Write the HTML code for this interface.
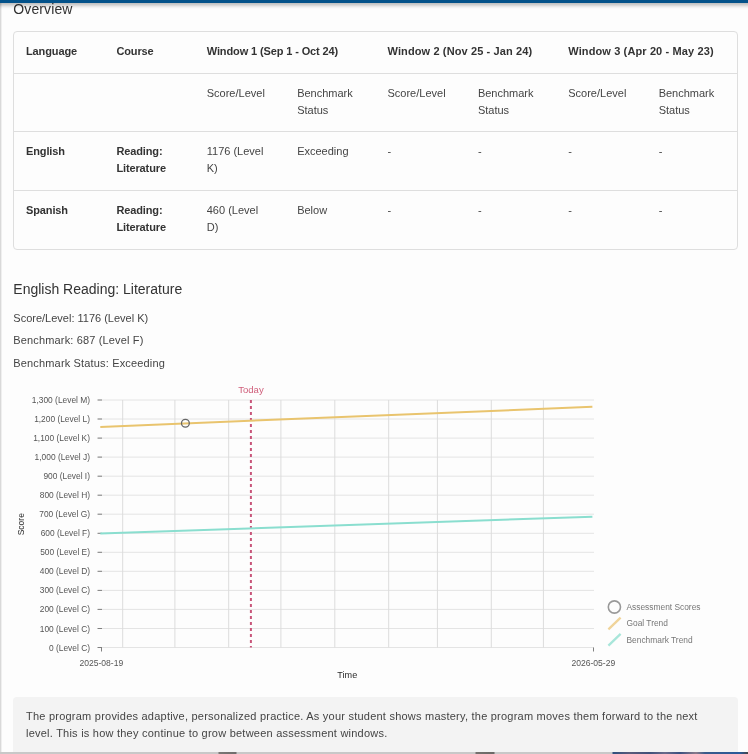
<!DOCTYPE html>
<html>
<head>
<meta charset="utf-8">
<style>
*{box-sizing:border-box;margin:0;padding:0}
html,body{width:748px;height:754px;overflow:hidden;background:#fdfdfd}
body{position:relative;will-change:transform;font-family:"Liberation Sans",Arial,sans-serif;color:#333}
.abs{position:absolute}
.lb0{left:0;top:0;width:1px;height:754px;background:#d9d9d9}
.lb1{left:1px;top:0;width:1px;height:754px;background:#efefef}
.topbar{left:-10px;top:0;width:770px;height:3px;background:#03528a;box-shadow:0 1px 5px rgba(0,0,0,.55);z-index:5}
h2.ov{left:13.3px;letter-spacing:0.12px;top:-1px;font-size:14px;font-weight:normal;line-height:20px;color:#333}
.card{left:13px;top:31px;width:725px;height:219px;border:1px solid #dedede;border-radius:4px;background:#fdfdfd}
table{border-collapse:collapse;table-layout:fixed;width:723px;font-size:11px;line-height:17px}
td,th{padding:0 8px 0 12px;vertical-align:top;text-align:left}
th{font-weight:bold;color:#333;letter-spacing:-0.12px}
td{color:#444}
th.w{letter-spacing:0.12px}
td.b{font-weight:bold;color:#333;letter-spacing:-0.12px}
tr.r1{height:41px}
tr.r1 th{padding-top:11px;border-bottom:1px solid #dedede}
tr.r2 td{padding-top:11px;height:58px;border-bottom:1px solid #dedede}
tr.r3 td{padding-top:11px;height:59px;border-bottom:1px solid #dedede}
tr.r4 td{padding-top:11px;height:59px}
h3.sec{left:13.3px;top:279px;font-size:14px;font-weight:normal;line-height:20px;color:#333}
.info{left:13.3px;font-size:11px;line-height:16px;color:#444}
.note{left:13px;top:697px;width:725px;height:70px;background:#f3f3f3;border-radius:4px;padding:11px 13px;font-size:11px;line-height:16.8px;color:#444;letter-spacing:0.23px}
.strip{left:0;top:752px;width:748px;height:2px;background:linear-gradient(90deg,#c8c8c8 0,#c8c8c8 218px,#7a7775 219px,#6f6d6c 236px,#c8c8c8 237px,#c8c8c8 475px,#75716e 476px,#6a6866 494px,#c8c8c8 495px,#c8c8c8 612px,#2f4f7e 613px,#5a5a7a 630px,#40507a 650px,#6a6a8a 665px,#3a4f7f 680px,#8a7a8a 696px,#3a5a8a 705px,#2a5a9a 740px,#444 748px)}
svg text{font-family:"Liberation Sans",Arial,sans-serif}
</style>
</head>
<body>
<div class="abs lb0"></div>
<div class="abs lb1"></div>
<div class="abs topbar"></div>
<h2 class="abs ov">Overview</h2>

<div class="abs card">
<table>
<colgroup><col><col><col><col><col><col><col><col></colgroup>
<tr class="r1"><th>Language</th><th>Course</th><th colspan="2">Window 1 (Sep 1 - Oct 24)</th><th colspan="2" class="w">Window 2 (Nov 25 - Jan 24)</th><th colspan="2" class="w">Window 3 (Apr 20 - May 23)</th></tr>
<tr class="r2"><td></td><td></td><td>Score/Level</td><td>Benchmark Status</td><td>Score/Level</td><td>Benchmark Status</td><td>Score/Level</td><td>Benchmark Status</td></tr>
<tr class="r3"><td class="b">English</td><td class="b">Reading: Literature</td><td>1176 (Level<br>K)</td><td>Exceeding</td><td>-</td><td>-</td><td>-</td><td>-</td></tr>
<tr class="r4"><td class="b">Spanish</td><td class="b">Reading: Literature</td><td>460 (Level<br>D)</td><td>Below</td><td>-</td><td>-</td><td>-</td><td>-</td></tr>
</table>
</div>

<h3 class="abs sec">English Reading: Literature</h3>
<div class="abs info" style="top:310px">Score/Level: 1176 (Level K)</div>
<div class="abs info" style="top:332px;letter-spacing:0.15px">Benchmark: 687 (Level F)</div>
<div class="abs info" style="top:355px;letter-spacing:0.16px">Benchmark Status: Exceeding</div>

<svg class="abs" style="left:0;top:380px" width="748" height="310" viewBox="0 380 748 310">
<line x1="98" y1="647.5" x2="594" y2="647.5" stroke="#e4e4e4" stroke-width="1"/>
<line x1="98" y1="628.5" x2="594" y2="628.5" stroke="#e4e4e4" stroke-width="1"/>
<line x1="98" y1="609.4" x2="594" y2="609.4" stroke="#e4e4e4" stroke-width="1"/>
<line x1="98" y1="590.4" x2="594" y2="590.4" stroke="#e4e4e4" stroke-width="1"/>
<line x1="98" y1="571.3" x2="594" y2="571.3" stroke="#e4e4e4" stroke-width="1"/>
<line x1="98" y1="552.3" x2="594" y2="552.3" stroke="#e4e4e4" stroke-width="1"/>
<line x1="98" y1="533.3" x2="594" y2="533.3" stroke="#e4e4e4" stroke-width="1"/>
<line x1="98" y1="514.2" x2="594" y2="514.2" stroke="#e4e4e4" stroke-width="1"/>
<line x1="98" y1="495.2" x2="594" y2="495.2" stroke="#e4e4e4" stroke-width="1"/>
<line x1="98" y1="476.2" x2="594" y2="476.2" stroke="#e4e4e4" stroke-width="1"/>
<line x1="98" y1="457.1" x2="594" y2="457.1" stroke="#e4e4e4" stroke-width="1"/>
<line x1="98" y1="438.1" x2="594" y2="438.1" stroke="#e4e4e4" stroke-width="1"/>
<line x1="98" y1="419.0" x2="594" y2="419.0" stroke="#e4e4e4" stroke-width="1"/>
<line x1="98" y1="400.0" x2="594" y2="400.0" stroke="#e4e4e4" stroke-width="1"/>
<line x1="122.7" y1="400.0" x2="122.7" y2="647.5" stroke="#dcdcdc" stroke-width="1"/>
<line x1="174.9" y1="400.0" x2="174.9" y2="647.5" stroke="#dcdcdc" stroke-width="1"/>
<line x1="228.7" y1="400.0" x2="228.7" y2="647.5" stroke="#dcdcdc" stroke-width="1"/>
<line x1="280.9" y1="400.0" x2="280.9" y2="647.5" stroke="#dcdcdc" stroke-width="1"/>
<line x1="334.8" y1="400.0" x2="334.8" y2="647.5" stroke="#dcdcdc" stroke-width="1"/>
<line x1="388.7" y1="400.0" x2="388.7" y2="647.5" stroke="#dcdcdc" stroke-width="1"/>
<line x1="437.4" y1="400.0" x2="437.4" y2="647.5" stroke="#dcdcdc" stroke-width="1"/>
<line x1="491.3" y1="400.0" x2="491.3" y2="647.5" stroke="#dcdcdc" stroke-width="1"/>
<line x1="543.4" y1="400.0" x2="543.4" y2="647.5" stroke="#dcdcdc" stroke-width="1"/>
<line x1="97.5" y1="647.5" x2="102" y2="647.5" stroke="#808080" stroke-width="1"/>
<line x1="97.5" y1="628.5" x2="102" y2="628.5" stroke="#808080" stroke-width="1"/>
<line x1="97.5" y1="609.4" x2="102" y2="609.4" stroke="#808080" stroke-width="1"/>
<line x1="97.5" y1="590.4" x2="102" y2="590.4" stroke="#808080" stroke-width="1"/>
<line x1="97.5" y1="571.3" x2="102" y2="571.3" stroke="#808080" stroke-width="1"/>
<line x1="97.5" y1="552.3" x2="102" y2="552.3" stroke="#808080" stroke-width="1"/>
<line x1="97.5" y1="533.3" x2="102" y2="533.3" stroke="#808080" stroke-width="1"/>
<line x1="97.5" y1="514.2" x2="102" y2="514.2" stroke="#808080" stroke-width="1"/>
<line x1="97.5" y1="495.2" x2="102" y2="495.2" stroke="#808080" stroke-width="1"/>
<line x1="97.5" y1="476.2" x2="102" y2="476.2" stroke="#808080" stroke-width="1"/>
<line x1="97.5" y1="457.1" x2="102" y2="457.1" stroke="#808080" stroke-width="1"/>
<line x1="97.5" y1="438.1" x2="102" y2="438.1" stroke="#808080" stroke-width="1"/>
<line x1="97.5" y1="419.0" x2="102" y2="419.0" stroke="#808080" stroke-width="1"/>
<line x1="97.5" y1="400.0" x2="102" y2="400.0" stroke="#808080" stroke-width="1"/>
<line x1="101.5" y1="647.5" x2="101.5" y2="651.5" stroke="#808080" stroke-width="1"/>
<line x1="593.5" y1="647.5" x2="593.5" y2="651.5" stroke="#808080" stroke-width="1"/>
<text x="90" y="650.5" text-anchor="end" font-size="8.4" fill="#555">0 (Level C)</text>
<text x="90" y="631.5" text-anchor="end" font-size="8.4" fill="#555">100 (Level C)</text>
<text x="90" y="612.4" text-anchor="end" font-size="8.4" fill="#555">200 (Level C)</text>
<text x="90" y="593.4" text-anchor="end" font-size="8.4" fill="#555">300 (Level C)</text>
<text x="90" y="574.3" text-anchor="end" font-size="8.4" fill="#555">400 (Level D)</text>
<text x="90" y="555.3" text-anchor="end" font-size="8.4" fill="#555">500 (Level E)</text>
<text x="90" y="536.3" text-anchor="end" font-size="8.4" fill="#555">600 (Level F)</text>
<text x="90" y="517.2" text-anchor="end" font-size="8.4" fill="#555">700 (Level G)</text>
<text x="90" y="498.2" text-anchor="end" font-size="8.4" fill="#555">800 (Level H)</text>
<text x="90" y="479.2" text-anchor="end" font-size="8.4" fill="#555">900 (Level I)</text>
<text x="90" y="460.1" text-anchor="end" font-size="8.4" fill="#555">1,000 (Level J)</text>
<text x="90" y="441.1" text-anchor="end" font-size="8.4" fill="#555">1,100 (Level K)</text>
<text x="90" y="422.0" text-anchor="end" font-size="8.4" fill="#555">1,200 (Level L)</text>
<text x="90" y="403.0" text-anchor="end" font-size="8.4" fill="#555">1,300 (Level M)</text>
<text x="101.3" y="665.5" text-anchor="middle" font-size="8.55" fill="#555">2025-08-19</text>
<text x="593.3" y="665.5" text-anchor="middle" font-size="8.55" fill="#555">2026-05-29</text>
<text x="347.3" y="678" text-anchor="middle" font-size="9.1" fill="#2a2a2a">Time</text>
<text transform="translate(24.1 535.3) rotate(-90)" font-size="9.1" textLength="22.2" lengthAdjust="spacingAndGlyphs" fill="#2a2a2a">Score</text>
<line x1="250.9" y1="400.0" x2="250.9" y2="647.5" stroke="#c8567a" stroke-width="2" stroke-dasharray="3 3"/>
<text x="238.2" y="393" font-size="9" textLength="25.5" lengthAdjust="spacingAndGlyphs" fill="#d0607c">Today</text>
<line x1="100.3" y1="426.9" x2="592.4" y2="406.8" stroke="#e9c46e" stroke-width="2"/>
<line x1="100.3" y1="533.5" x2="592.4" y2="516.7" stroke="#8adecf" stroke-width="2"/>
<circle cx="185.4" cy="423.3" r="3.9" fill="none" stroke="#666" stroke-width="1.3"/>
<circle cx="614.4" cy="607" r="6.1" fill="none" stroke="#999" stroke-width="1.6"/>
<text x="626.5" y="610.4" font-size="8.4" fill="#777">Assessment Scores</text>
<line x1="608.4" y1="629.4" x2="620.6" y2="617.6" stroke="#f0d49a" stroke-width="2.3"/>
<text x="626.5" y="626.4" font-size="8.4" fill="#777">Goal Trend</text>
<line x1="608.4" y1="645.7" x2="620.6" y2="633.9" stroke="#a8e6da" stroke-width="2.3"/>
<text x="626.5" y="643.4" font-size="8.4" fill="#777">Benchmark Trend</text>
</svg>

<div class="abs note">The program provides adaptive, personalized practice. As your student shows mastery, the program moves them forward to the next<br>level. This is how they continue to grow between assessment windows.</div>
<div class="abs strip"></div>
</body>
</html>
